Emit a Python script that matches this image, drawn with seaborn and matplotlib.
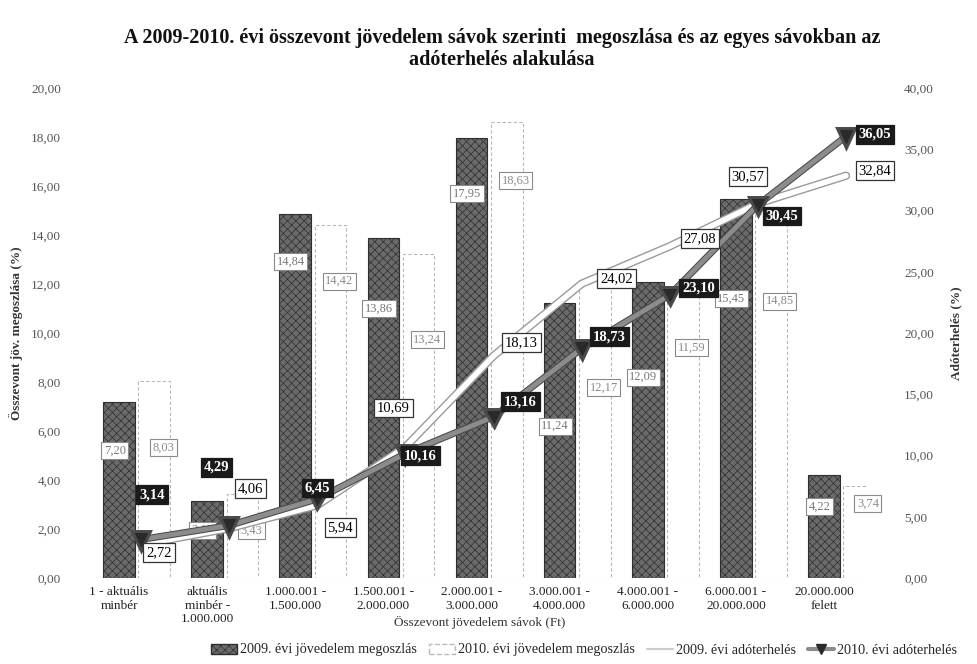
import numpy as np
import pandas as pd
import matplotlib
matplotlib.use("Agg")
import matplotlib.pyplot as plt
import matplotlib.patheffects as pe
from matplotlib.patches import Patch
from matplotlib.lines import Line2D
import seaborn as sns

# ---------------- data ----------------
categories = ["1 - aktuális\nminbér", "aktuális\nminbér -\n1.000.000", "1.000.001 -\n1.500.000",
              "1.500.001 -\n2.000.000", "2.000.001 -\n3.000.000", "3.000.001 -\n4.000.000",
              "4.000.001 -\n6.000.000", "6.000.001 -\n20.000.000", "20.000.000\nfelett"]
dist_2009 = [7.20, 3.15, 14.84, 13.86, 17.95, 11.24, 12.09, 15.45, 4.22]
dist_2010 = [8.03, 3.43, 14.42, 13.24, 18.63, 12.17, 11.59, 14.85, 3.74]
tax_2009 = [2.72, 4.06, 5.94, 10.69, 18.13, 24.02, 27.08, 30.57, 32.84]
tax_2010 = [3.14, 4.29, 6.45, 10.16, 13.16, 18.73, 23.10, 30.45, 36.05]
series_names = ["2009. évi jövedelem megoszlás", "2010. évi jövedelem megoszlás",
                "2009. évi adóterhelés", "2010. évi adóterhelés"]
left_ticks = [0, 2, 4, 6, 8, 10, 12, 14, 16, 18, 20]
right_ticks = [0, 5, 10, 15, 20, 25, 30, 35, 40]

# ---------------- label placement (style) ----------------
dark_lab_drop = [2.0, 1.2, 1.94, 2.86, 2.25, 5.04, 3.89, 4.05, 1.32]
faint_lab_drop = [2.7, 1.5, 2.3, 3.5, 2.4, 4.4, 2.2, 3.55, 0.7]
t09_off = [(18, -8), (21, 40), (23, -22), (-12, 39), (28, 13), (35, 5), (30, 8), (-10, 27), (29, 5)]
t10_off = [(11, 45), (-13, 58), (0, 11), (15, -2), (27, 15), (28, 12), (29, 7), (24, -11), (29, 2)]

sns.set_theme(style="white")
plt.rcParams['font.family'] = ['Liberation Serif', 'DejaVu Serif']
plt.rcParams['hatch.linewidth'] = 0.5

fig = plt.figure(figsize=(9.78, 6.64), dpi=100)
ax = fig.add_axes([75/978, 1-578/664, (868-75)/978, (578-88)/664])
ax2 = ax.twinx()

df = pd.DataFrame({
    "cat": categories * 2,
    "val": dist_2009 + dist_2010,
    "ser": [series_names[0]] * len(categories) + [series_names[1]] * len(categories),
})
sns.barplot(data=df, x="cat", y="val", hue="ser", order=categories,
            hue_order=series_names[:2], palette=["#5a5a5a", "#ffffff"],
            width=0.8, gap=0.1, legend=False, ax=ax, zorder=2)

dark_c, faint_c = ax.containers[0], ax.containers[1]
for b in dark_c:
    b.set_facecolor("#6a6a6a")
    b.set_edgecolor("#2e2e2e")
    b.set_hatch("xxxx")
    b.set_linewidth(0.8)
for b in faint_c:
    b.set_facecolor("none")
    b.set_edgecolor("#b8b8b8")
    b.set_linestyle((0, (3, 2)))
    b.set_linewidth(0.8)

ax.set_xlim(-0.7, 8.3)
ax.set_ylim(0, 20)
ax.set_yticks(left_ticks)
ax.set_yticklabels([f"{t:.2f}".replace(".", ",") for t in left_ticks], fontsize=9.5, color="#555555")
ax.set_xticks(np.arange(len(categories)) - 0.2)
ax.set_xticklabels(categories, fontsize=9.5, color="#222222", linespacing=1.15)
ax.tick_params(axis="x", length=0, pad=6)
ax.tick_params(axis="y", length=0, pad=10)
ax.set_xlabel("")
ax.set_ylabel("Összevont jöv. megoszlása (%)", fontsize=9.5, fontweight="bold", color="#333333", labelpad=6)

# bar labels
box_faded = dict(boxstyle="square,pad=0.2", fc="white", ec="#8a8a8a", lw=0.8)
for i, b in enumerate(dark_c):
    xc = b.get_x() + b.get_width() / 2 - 0.05
    ax.text(xc, dist_2009[i] - dark_lab_drop[i], f"{dist_2009[i]:.2f}".replace(".", ","),
            ha="center", va="center", fontsize=9, color="#777777", bbox=box_faded, zorder=5)
for i, b in enumerate(faint_c):
    xc = b.get_x() + b.get_width() / 2 + 0.1
    ax.text(xc, dist_2010[i] - faint_lab_drop[i], f"{dist_2010[i]:.2f}".replace(".", ","),
            ha="center", va="center", fontsize=9, color="#8a8a8a", bbox=box_faded, zorder=5)

# lines on secondary axis
xl = np.arange(len(categories)) + 0.05
ldf = pd.DataFrame({"x": np.concatenate([xl, xl]), "y": tax_2009 + tax_2010,
                    "s": [series_names[2]] * len(xl) + [series_names[3]] * len(xl)})
sns.lineplot(data=ldf[ldf.s == series_names[2]], x="x", y="y", ax=ax2, color="white", lw=4,
             legend=False, zorder=3,
             path_effects=[pe.Stroke(linewidth=6, foreground="#9a9a9a"), pe.Normal()])
sns.lineplot(data=ldf[ldf.s == series_names[3]], x="x", y="y", ax=ax2, color="#8c8c8c", lw=3.5,
             marker="v", markersize=9, markerfacecolor="#2a2a2a", markeredgecolor="#2a2a2a",
             legend=False, zorder=4,
             path_effects=[pe.Stroke(linewidth=5, foreground="#4a4a4a"), pe.Normal()])
ax2.set_ylim(0, 40)
ax2.set_yticks(right_ticks)
ax2.set_yticklabels([f"{t:.2f}".replace(".", ",") for t in right_ticks], fontsize=9.5, color="#555555")
ax2.tick_params(axis="y", length=0, pad=26)
ax2.set_xlabel("")
ax2.set_ylabel("Adóterhelés (%)", fontsize=9.5, fontweight="bold", color="#333333", labelpad=12)
ax.set_xlim(-0.7, 8.3)

for i in range(len(xl)):
    ax2.annotate(f"{tax_2009[i]:.2f}".replace(".", ","), (xl[i], tax_2009[i]),
                 xytext=t09_off[i], textcoords="offset pixels", ha="center", va="center",
                 fontsize=10.5, color="black", zorder=6,
                 bbox=dict(boxstyle="square,pad=0.2", fc="white", ec="#333333", lw=0.9))
    ax2.annotate(f"{tax_2010[i]:.2f}".replace(".", ","), (xl[i], tax_2010[i]),
                 xytext=t10_off[i], textcoords="offset pixels", ha="center", va="center",
                 fontsize=10.5, color="white", fontweight="bold", zorder=6,
                 bbox=dict(boxstyle="square,pad=0.2", fc="#1a1a1a", ec="#1a1a1a", lw=0.9))

for a in (ax, ax2):
    for s in a.spines.values():
        s.set_visible(False)
    a.grid(False)

fig.text(502/978, 1-38/664,
         "A 2009-2010. évi összevont jövedelem sávok szerinti  megoszlása és az egyes sávokban az",
         ha="center", va="center", fontsize=14.5, fontweight="bold", color="#111111")
fig.text(502/978, 1-60/664, "adóterhelés alakulása",
         ha="center", va="center", fontsize=14.5, fontweight="bold", color="#111111")
fig.text(480/978, 1-622/664, "Összevont jövedelem sávok (Ft)", ha="center", va="center",
         fontsize=9.5, color="#333333")

handles = [Patch(facecolor="#6a6a6a", edgecolor="#2e2e2e", hatch="xxxx"),
           Patch(facecolor="white", edgecolor="#bbbbbb", linestyle="--"),
           Line2D([0], [0], color="#cccccc", lw=1.5),
           Line2D([0], [0], color="#8c8c8c", lw=3, marker="v", markersize=7,
                  markerfacecolor="#2a2a2a", markeredgecolor="#2a2a2a")]
fig.legend(handles, series_names, loc="center", bbox_to_anchor=(584/978, 1-650/664), ncol=4,
           frameon=False, fontsize=10.2, handlelength=1.8, handletextpad=0.2, columnspacing=0.9)

fig.savefig("out.png", dpi=100)
